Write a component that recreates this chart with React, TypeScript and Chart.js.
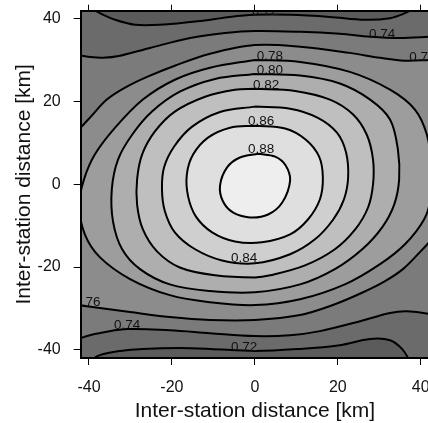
import React, { useEffect, useRef } from 'react';
import { Chart, registerables } from 'chart.js';

Chart.register(...registerables);

type P = [number, number];

// ---- axes ----
const axisMin = -42;
const axisMax = 42;
const xTicks = [-40, -20, 0, 20, 40];
const yTicks = [-40, -20, 0, 20, 40];
const axisTitle = 'Inter-station distance [km]';

// ---- contour lines (km, km) ----
// closed contours around the central maximum
const c088: P[] = [[0.8, 7.4], [-3.6, 6.5], [-6.7, 4.1], [-8.4, -0.3], [-7.7, -4.1], [-5.3, -6.8], [-1.2, -8.0], [3.2, -7.3], [6.6, -4.4], [8.5, 0.9], [7.4, 4.6], [4.9, 6.7], [0.8, 7.4]];
const c086: P[] = [[0, 14.2], [7.3, 13.5], [12.3, 10.8], [15.5, 6.7], [16.4, 1.7], [15.7, -3.6], [12.8, -8.5], [8.5, -12.1], [1.7, -14.0], [-4.8, -13.8], [-10.3, -11.6], [-14.2, -7.8], [-16.1, -2.9], [-16.4, 2.4], [-14.9, 7.2], [-11.3, 11.3], [-6.0, 13.7], [0, 14.2]];
const c084: P[] = [[0, 18.8], [8.5, 18.3], [15.2, 16.1], [19.8, 12.5], [22.0, 7.7], [22.5, 1.7], [21.5, -3.6], [18.9, -8.5], [14.5, -13.3], [8.5, -16.9], [0, -19.1], [-7.9, -18.4], [-14.4, -15.7], [-19.3, -11.6], [-21.7, -6.5], [-22.4, -1.2], [-21.9, 4.1], [-19.5, 9.1], [-15.2, 13.9], [-8.4, 17.5], [0, 18.8]];
const c082: P[] = [[0, 23.1], [9.7, 22.6], [18.1, 20.5], [23.7, 16.9], [27.0, 12.0], [28.5, 6.0], [28.5, 0.0], [27.3, -5.6], [24.2, -10.9], [19.3, -15.7], [12.1, -19.6], [3.7, -22.0], [0, -22.5], [-9.6, -22.0], [-18.1, -20.1], [-23.6, -16.2], [-27.0, -10.9], [-28.4, -4.9], [-28.4, 1.2], [-27.2, 7.2], [-24.1, 12.8], [-19.3, 17.6], [-12.0, 21.2], [-4.8, 22.9], [0, 23.1]];
const c080: P[] = [[0, 26.7], [10.9, 26.3], [20.5, 24.4], [27.8, 20.5], [32.6, 15.7], [34.5, 8.4], [34.8, 1.2], [33.6, -4.9], [30.7, -10.4], [25.9, -15.7], [19.3, -20.5], [10.9, -24.2], [0, -26.1], [-10.8, -25.8], [-20.5, -24.2], [-27.7, -20.5], [-32.0, -15.7], [-34.2, -9.0], [-34.5, -1.2], [-33.0, 6.0], [-29.6, 12.0], [-24.8, 17.6], [-18.1, 22.4], [-9.6, 25.5], [0, 26.7]];
const c078: P[] = [[0, 30.1], [10.9, 29.6], [22.9, 27.2], [32.6, 22.9], [38.6, 18.1], [41.5, 12.0], [42.5, 4.8], [42.3, -3.6], [40.8, -8.5], [36.2, -14.5], [30.2, -19.3], [21.7, -24.2], [10.9, -27.8], [0, -29.2], [-10.8, -28.5], [-20.5, -26.8], [-30.1, -22.9], [-37.4, -17.6], [-41.0, -12.1], [-42.4, -4.9], [-41.2, 1.2], [-38.6, 7.2], [-33.7, 13.7], [-27.0, 20.5], [-19.3, 25.3], [-10.8, 28.2], [0, 30.1]];
// open contours crossing the top of the plot
const top072: P[] = [[-39.3, 42.6], [-37.4, 41.4], [-33.7, 39.8], [-28.9, 38.6], [-22.9, 38.6], [-13.2, 39.5], [-6.0, 40.5], [0, 41.0], [8.5, 41.0], [18.1, 40.5], [26.6, 39.8], [32.6, 40.2], [36.2, 41.4], [38.6, 42.6]];
const top074: P[] = [[-42.7, 31.3], [-39.8, 30.8], [-36.6, 30.6], [-32.5, 31.1], [-25.3, 33.0], [-15.6, 35.4], [-7.2, 36.6], [0, 37.1], [10.9, 36.9], [20.5, 36.4], [27.8, 35.7], [35.0, 35.4], [42.5, 35.7]];
const top076: P[] = [[-42.7, 13.0], [-39.8, 16.1], [-35.7, 20.5], [-31.3, 23.4], [-26.0, 26.0], [-19.3, 28.7], [-10.8, 31.6], [0, 33.7], [10.9, 33.3], [22.9, 31.8], [30.2, 30.6], [36.2, 29.9], [42.5, 30.1]];
// open contours crossing the bottom of the plot
const bot072: P[] = [[-39.8, -42.7], [-37.4, -41.3], [-32.5, -40.3], [-27.0, -39.8], [-18.1, -39.6], [-10.8, -39.8], [0, -40.3], [10.9, -39.8], [20.5, -38.9], [27.8, -37.4], [32.6, -37.7], [35.5, -39.8], [37.4, -42.7]];
const bot074: P[] = [[-42.7, -37.4], [-38.6, -36.2], [-30.8, -35.0], [-20.5, -35.3], [-10.8, -36.0], [0, -36.7], [8.5, -36.5], [15.7, -35.5], [25.4, -33.1], [32.6, -31.1], [36.7, -30.7], [42.7, -31.4]];
const bot076: P[] = [[-42.7, -29.2], [-37.4, -29.9], [-30.1, -30.9], [-20.5, -32.1], [-10.8, -32.8], [0, -32.8], [10.9, -31.6], [19.3, -29.0], [26.1, -26.1], [31.4, -23.4], [35.7, -20.5], [39.8, -16.4], [42.7, -13.3]];

// ---- contour labels ----
const labelText = ['0.72', '0.74', '0.76', '0.78', '0.80', '0.82', '0.86', '0.88', '0.84', '0.76', '0.74', '0.72'];
const labelX = [2.4, 30.7, 40.4, 3.6, 3.6, 2.7, 1.5, 1.5, -2.6, -40.4, -30.8, -2.6];
const labelY = [41.0, 35.5, 29.9, 30.0, 26.6, 23.0, 14.3, 7.5, -18.9, -29.5, -35.1, -40.2];

// ---- band colours (grey levels) ----
const band70 = '#5b5b5b';
const band72 = '#6b6b6b';
const band74 = '#7b7b7b';
const band76 = '#8c8c8c';
const band78 = '#9d9d9d';
const band80 = '#aeaeae';
const band82 = '#bfbfbf';
const band84 = '#cfcfcf';
const band86 = '#dfdfdf';
const band88 = '#eeeeee';

const FONT = '"Liberation Sans", Arial, Helvetica, sans-serif';

const contours = [
  { pts: c088, fill: 'shape', color: band88 },
  { pts: c086, fill: 'shape', color: band86 },
  { pts: c084, fill: 'shape', color: band84 },
  { pts: c082, fill: 'shape', color: band82 },
  { pts: c080, fill: 'shape', color: band80 },
  { pts: c078, fill: 'shape', color: band78 },
  { pts: top072, fill: 'end', color: band70 },
  { pts: top074, fill: 'end', color: band72 },
  { pts: top076, fill: 'end', color: band74 },
  { pts: bot072, fill: 'start', color: band70 },
  { pts: bot074, fill: 'start', color: band72 },
  { pts: bot076, fill: 'start', color: band74 },
];

const backgroundPlugin = {
  id: 'plotBackground',
  beforeDraw(chart: any) {
    const { ctx, chartArea: a } = chart;
    ctx.save();
    ctx.fillStyle = band76;
    ctx.fillRect(a.left, a.top, a.right - a.left, a.bottom - a.top);
    ctx.restore();
  },
};

const labelPlugin = {
  id: 'contourLabels',
  afterDatasetsDraw(chart: any) {
    const { ctx, chartArea: a, scales } = chart;
    ctx.save();
    ctx.beginPath();
    ctx.rect(a.left, a.top, a.right - a.left, a.bottom - a.top);
    ctx.clip();
    ctx.font = `13.5px ${FONT}`;
    ctx.fillStyle = '#111';
    ctx.textAlign = 'center';
    ctx.textBaseline = 'alphabetic';
    labelText.forEach((t, i) => {
      ctx.fillText(t, scales.x.getPixelForValue(labelX[i]), scales.y.getPixelForValue(labelY[i]));
    });
    ctx.restore();
  },
};

const noPad = (s: any) => {
  s.paddingTop = 0;
  s.paddingBottom = 0;
  s.paddingLeft = 0;
  s.paddingRight = 0;
};

export default function App() {
  const ref = useRef<HTMLCanvasElement>(null);

  useEffect(() => {
    if (!ref.current) return;
    Chart.defaults.font.family = FONT;
    const chart = new Chart(ref.current, {
      type: 'scatter',
      data: {
        datasets: contours.map((c) => ({
          data: c.pts.map(([x, y]) => ({ x, y })),
          showLine: true,
          fill: c.fill,
          backgroundColor: c.color,
          borderColor: '#000',
          borderWidth: 2,
          pointRadius: 0,
          tension: 0.35,
          clip: 0,
        })),
      },
      options: {
        animation: false,
        responsive: false,
        events: [],
        layout: { padding: { left: 0, right: 11, top: 0, bottom: 0 } },
        elements: { line: { capBezierPoints: false } },
        plugins: {
          legend: { display: false },
          tooltip: { enabled: false },
          filler: { drawTime: 'beforeDatasetsDraw' },
        },
        scales: {
          x: {
            type: 'linear',
            position: 'bottom',
            min: axisMin,
            max: axisMax,
            afterBuildTicks: (s: any) => { s.ticks = xTicks.map((v) => ({ value: v })); },
            afterFit: (s: any) => { s.height = 65; noPad(s); },
            ticks: { font: { size: 16 }, color: '#111', padding: 13, maxRotation: 0, autoSkip: false, callback: (v: any) => String(v) },
            grid: { drawOnChartArea: false, drawTicks: true, tickLength: 7, tickColor: '#000', tickWidth: 1 },
            border: { display: true, color: '#000', width: 2, z: 1 },
            title: { display: true, text: axisTitle, font: { size: 21, lineHeight: 1 }, color: '#111', padding: { top: 0, bottom: 1.5 } },
          },
          x2: {
            type: 'linear',
            position: 'top',
            min: axisMin,
            max: axisMax,
            afterBuildTicks: (s: any) => { s.ticks = xTicks.map((v) => ({ value: v })); },
            afterFit: (s: any) => { s.height = 10.7; noPad(s); },
            ticks: { display: false },
            grid: { drawOnChartArea: false, drawTicks: true, tickLength: 6, tickColor: '#000', tickWidth: 1 },
            border: { display: true, color: '#000', width: 2, z: 1 },
          },
          y: {
            type: 'linear',
            position: 'left',
            min: axisMin,
            max: axisMax,
            afterBuildTicks: (s: any) => { s.ticks = yTicks.map((v) => ({ value: v })); },
            afterFit: (s: any) => { s.width = 80.7; noPad(s); },
            ticks: { font: { size: 16 }, color: '#111', padding: 13, autoSkip: false, callback: (v: any) => String(v) },
            grid: { drawOnChartArea: false, drawTicks: true, tickLength: 7, tickColor: '#000', tickWidth: 1 },
            border: { display: true, color: '#000', width: 2, z: 1 },
            title: { display: true, text: axisTitle, font: { size: 21 }, color: '#111', padding: { top: 11.5, bottom: 0 } },
          },
        },
      } as any,
      plugins: [backgroundPlugin, labelPlugin],
    } as any);
    return () => chart.destroy();
  }, []);

  return (
    <div style={{ position: 'fixed', left: 0, top: 0, width: 428, height: 423, overflow: 'hidden', background: '#fff' }}>
      <canvas ref={ref} width={440} height={423} style={{ display: 'block', width: 440, height: 423 }} />
    </div>
  );
}
